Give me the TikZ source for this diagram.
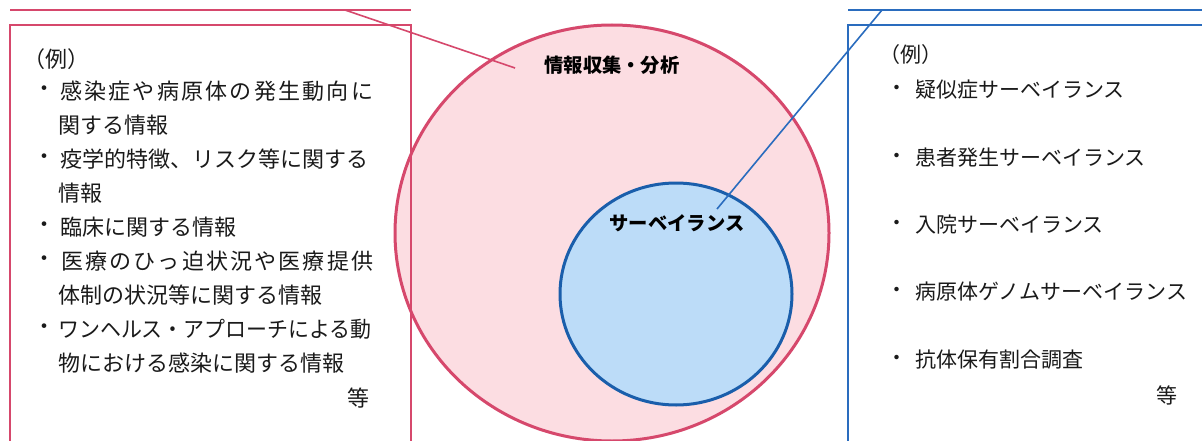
\documentclass[tikz,border=0pt]{standalone}
\usepackage{fontspec}
\usepackage{graphicx}
\setmainfont{Noto Sans CJK JP}
\definecolor{pinkline}{HTML}{D6486C}
\definecolor{pinkfill}{HTML}{FCDDE2}
\definecolor{blueline}{HTML}{1A5EAB}
\definecolor{bluethin}{HTML}{2A6CBE}
\definecolor{bluefill}{HTML}{BCDCF8}
\definecolor{txt}{HTML}{1A1A1A}
\tikzset{
  ltxt/.style={inner sep=0pt, anchor=west, text=txt, font=\fontsize{22}{26}\selectfont},
  rtxt/.style={inner sep=0pt, anchor=west, text=txt, font=\fontsize{21}{26}\selectfont},
  lbul/.style={inner sep=0pt, anchor=center, text=txt, font=\fontsize{22}{26}\selectfont},
  rbul/.style={inner sep=0pt, anchor=center, text=txt, font=\fontsize{21}{26}\selectfont},
  lbl/.style={inner sep=0pt, anchor=center, text=black, font=\fontsize{19.3}{22}\selectfont\bfseries},
  bigcircle/.style={draw=pinkline, fill=pinkfill, line width=3pt},
  smallcircle/.style={draw=blueline, fill=bluefill, line width=3pt},
  pinkbox/.style={draw=pinkline, line width=2pt},
  bluebox/.style={draw=bluethin, line width=2pt},
  pinkconn/.style={draw=pinkline, line width=1.6pt},
  blueconn/.style={draw=bluethin, line width=1.6pt}
}
\begin{document}
\begin{tikzpicture}[x=1pt,y=-1pt]
\useasboundingbox (0,0) rectangle (1202,441);
\clip (0,0) rectangle (1202,441);
\fill[white] (0,0) rectangle (1202,441);
% circles
\draw[bigcircle] (612,233) ellipse [x radius=217, y radius=208];
\draw[smallcircle] (676,294) ellipse [x radius=116, y radius=111];
\node[lbl] (info) at (612,65) {情報収集・分析};
\node[lbl] (surv) at (677,223) {サーベイランス};
% left box
\coordinate (ltl) at (10,10);
\coordinate (ltr) at (411,10);
\draw[pinkbox] (ltl) -- (ltr);
\draw[pinkbox] (10,460) -- (10,25) -- (411,25) -- (411,460);
\coordinate (lc1) at (345,10);
\coordinate (lc2) at (515,68);
\draw[pinkconn] (lc1) -- (lc2);
% right box
\draw[bluebox] (848,10) -- (1210,10);
\draw[bluebox] (1210,25) -- (848,25) -- (848,460);
\coordinate (rc1) at (882,10);
\coordinate (rc2) at (717,209);
\draw[blueconn] (rc1) -- (rc2);
% left text
\node[ltxt] (lex) at (23,59) {（例）};
\node[lbul] (lb1) at (44,91) {・};
\node[ltxt] (l1) at (60,91) {\makebox[313pt][s]{感\hfill 染\hfill 症\hfill や\hfill 病\hfill 原\hfill 体\hfill の\hfill 発\hfill 生\hfill 動\hfill 向\hfill に}};
\node[ltxt] (l1b) at (58,125) {関する情報};
\node[lbul] (lb2) at (44,159) {・};
\node[ltxt] (l2) at (60,159) {疫学的特徴、リスク等に関する};
\node[ltxt] (l2b) at (58,193) {情報};
\node[lbul] (lb3) at (44,227) {・};
\node[ltxt] (l3) at (60,227) {臨床に関する情報};
\node[lbul] (lb4) at (44,261) {・};
\node[ltxt] (l4) at (61,261) {\makebox[312pt][s]{医\hfill 療\hfill の\hfill ひ\hfill っ\hfill 迫\hfill 状\hfill 況\hfill や\hfill 医\hfill 療\hfill 提\hfill 供}};
\node[ltxt] (l4b) at (58,295) {体制の状況等に関する情報};
\node[lbul] (lb5) at (44,329) {・};
\node[ltxt] (l5) at (58,329) {\scalebox{0.952}[1]{ワンヘルス・アプローチによる動}};
\node[ltxt] (l5b) at (58,363) {物における感染に関する情報};
\node[lbul] (letc) at (358,398) {等};
% right text
\node[rtxt] (rex) at (879,55) {（例）};
\node[rbul] (rb1) at (897,90) {・};
\node[rtxt] (r1) at (915,90) {疑似症サーベイランス};
\node[rbul] (rb2) at (897,158) {・};
\node[rtxt] (r2) at (915,158) {患者発生サーベイランス};
\node[rbul] (rb3) at (897,225) {・};
\node[rtxt] (r3) at (915,225) {入院サーベイランス};
\node[rbul] (rb4) at (897,292) {・};
\node[rtxt] (r4) at (915,292) {病原体ゲノムサーベイランス};
\node[rbul] (rb5) at (897,360) {・};
\node[rtxt] (r5) at (915,360) {抗体保有割合調査};
\node[rbul] (retc) at (1167,395) {等};
\end{tikzpicture}
\end{document}
